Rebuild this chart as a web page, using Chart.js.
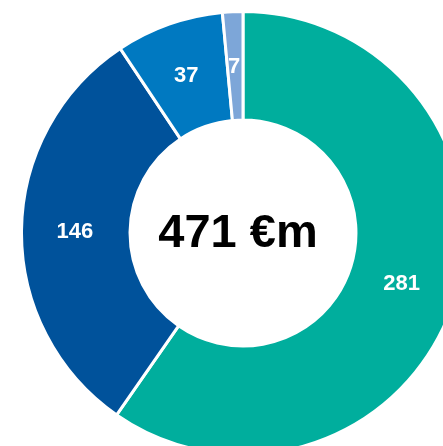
<!DOCTYPE html>
<html>
<head>
<meta charset="utf-8">
<script src="https://cdn.jsdelivr.net/npm/chart.js@4/dist/chart.umd.min.js"></script>
<style>
  html, body { margin: 0; padding: 0; background: #fff; overflow: hidden; width: 443px; height: 446px; }
  #wrap { position: absolute; left: 20px; top: 10px; width: 446px; height: 446px; }
</style>
</head>
<body>
<div id="wrap"><canvas id="chart"></canvas></div>
<script>
// slices, clockwise from 12 o'clock
const labels = ['A', 'B', 'C', 'D'];
const values = [281, 146, 37, 7];
const colors = ['#00ae9d', '#00529b', '#0079c1', '#7da6d8'];
const centerText = '471 €m';

const valueLabels = {
    id: 'valueLabels',
    afterDatasetsDraw(chart) {
        const ctx = chart.ctx;
        const meta = chart.getDatasetMeta(0);
        ctx.save();
        ctx.fillStyle = '#ffffff';
        ctx.font = 'bold 22px "Liberation Sans", Arial, sans-serif';
        ctx.textAlign = 'center';
        ctx.textBaseline = 'middle';
        meta.data.forEach((arc, i) => {
            const p = arc.tooltipPosition();
            ctx.fillText(String(values[i]), p.x - 1, p.y + 1);
        });
        // center total
        const c = meta.data[0];
        ctx.fillStyle = '#000000';
        ctx.font = 'bold 47px "Liberation Sans", Arial, sans-serif';
        ctx.fillText(centerText, c.x - 5, c.y + 1);
        ctx.restore();
    }
};

new Chart(document.getElementById('chart'), {
    type: 'doughnut',
    data: {
        labels: labels,
        datasets: [{
            data: values,
            backgroundColor: colors,
            borderColor: '#ffffff',
            borderWidth: 3,
            hoverOffset: 0
        }]
    },
    options: {
        responsive: true,
        maintainAspectRatio: false,
        animation: false,
        cutout: '51%',
        layout: { padding: 0 },
        plugins: {
            legend: { display: false },
            tooltip: { enabled: false }
        }
    },
    plugins: [valueLabels]
});
</script>
</body>
</html>
